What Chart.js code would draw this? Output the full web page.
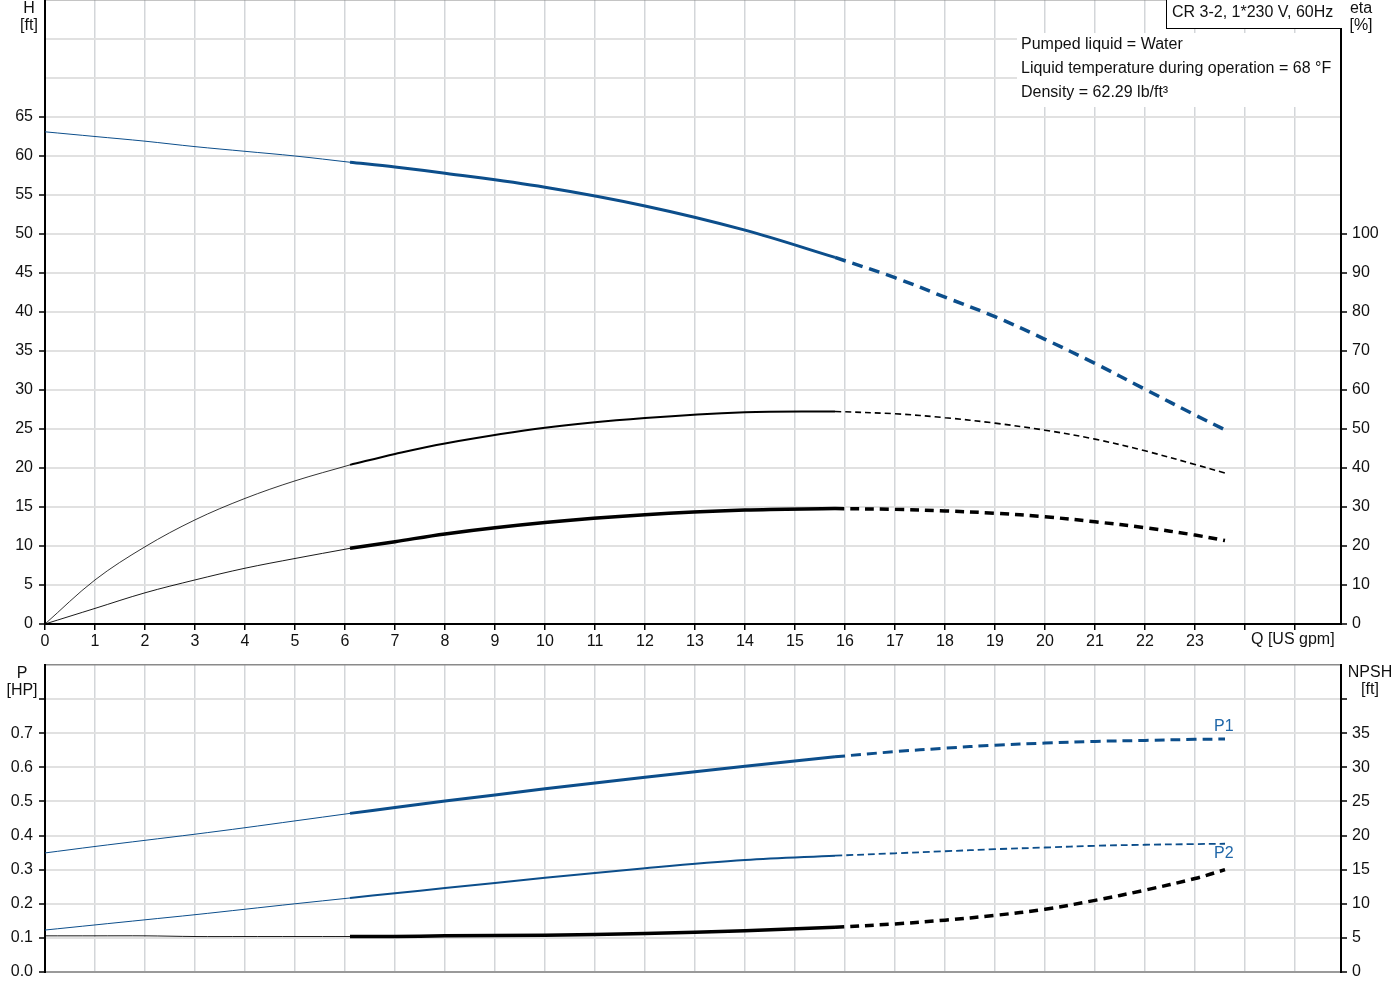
<!DOCTYPE html>
<html>
<head>
<meta charset="utf-8">
<script src="https://cdn.jsdelivr.net/npm/chart.js@4.4.1/dist/chart.umd.min.js"></script>
<style>
  body { margin: 0; background: #fff; }
  #wrap { position: relative; width: 1400px; height: 1000px; overflow: hidden; font-family: "Liberation Sans", Arial, sans-serif; color: #111; }
  canvas { position: absolute; left: 0; }
  .lbl { position: absolute; font-size: 16px; line-height: 17px; text-align: center; white-space: nowrap; }
  #model { position: absolute; left: 1166px; top: 0; width: 175px; height: 28px; border-left: 1px solid #000; border-bottom: 1px solid #000; background: #fff; font-size: 16px; }
  #model span { position: absolute; left: 5px; top: 3px; }
  #liquid { position: absolute; left: 1017px; top: 33px; width: 323px; height: 74px; background: #fff; font-size: 16px; }
  #liquid div { position: absolute; left: 4px; height: 18px; line-height: 18px; white-space: nowrap; }
</style>
</head>
<body>
<div id="wrap">
  <canvas id="topChart" width="1400" height="655" style="top:0"></canvas>
  <canvas id="bottomChart" width="1400" height="345" style="top:655px"></canvas>

  <div class="lbl" style="left:14px;top:-1px;width:30px">H<br>[ft]</div>
  <div class="lbl" style="left:1346px;top:-1px;width:30px">eta<br>[%]</div>
  <div class="lbl" style="left:1251px;top:630px;">Q [US gpm]</div>
  <div class="lbl" style="left:0;top:664px;width:44px">P<br>[HP]</div>
  <div class="lbl" style="left:1342px;top:663px;width:56px">NPSH<br>[ft]</div>

  <div id="model"><span>CR 3-2, 1*230 V, 60Hz</span></div>
  <div id="liquid">
    <div style="top:2px">Pumped liquid = Water</div>
    <div style="top:26px">Liquid temperature during operation = 68 °F</div>
    <div style="top:50px">Density = 62.29 lb/ft³</div>
  </div>
</div>

<script>
// Flow points (US gpm) shared by every curve
const flow = [0, 1, 2, 3, 4, 5, 6.1, 7, 8, 10, 12, 14, 15.8, 17, 18, 19, 20, 21, 22, 23, 23.6]

// Top panel
const headFt = [63.1, 62.5, 61.9, 61.2, 60.6, 60.0, 59.2, 58.6, 57.8, 56.0, 53.6, 50.5, 47.0, 44.4, 41.9, 39.4, 36.5, 33.4, 30.1, 26.8, 24.9]
const etaPump = [0, 11.3, 19.8, 26.7, 32.2, 36.7, 40.8, 43.6, 46.3, 50.3, 52.8, 54.3, 54.5, 53.9, 52.9, 51.5, 49.7, 47.4, 44.4, 40.9, 38.7]
const etaTotal = [0, 4.0, 8.0, 11.3, 14.3, 16.8, 19.4, 21.1, 23.1, 26.0, 28.0, 29.2, 29.6, 29.4, 29.0, 28.4, 27.5, 26.2, 24.7, 22.8, 21.4]

// Bottom panel
const powerP1 = [0.349, 0.368, 0.386, 0.404, 0.423, 0.443, 0.465, 0.482, 0.501, 0.537, 0.571, 0.603, 0.631, 0.646, 0.656, 0.665, 0.671, 0.676, 0.679, 0.682, 0.683]
const powerP2 = [0.123, 0.138, 0.153, 0.168, 0.184, 0.200, 0.217, 0.231, 0.246, 0.276, 0.304, 0.328, 0.341, 0.348, 0.354, 0.360, 0.365, 0.370, 0.373, 0.375, 0.376]
const npshFt = [5.3, 5.3, 5.3, 5.2, 5.2, 5.2, 5.2, 5.2, 5.3, 5.4, 5.65, 6.05, 6.55, 7.05, 7.6, 8.3, 9.2, 10.5, 12.0, 13.7, 15.0]

// Axis ticks
const qTicks = [0, 1, 2, 3, 4, 5, 6, 7, 8, 9, 10, 11, 12, 13, 14, 15, 16, 17, 18, 19, 20, 21, 22, 23, 24, 25]
const qLabelMax = 23
const qMax = 25.92
const headMax = 80, headLabelMax = 65
const etaMax = 160, etaLabelMax = 100
const powerMax = 0.9, powerLabelMax = 0.7, powerTickMax = 0.8
const npshMax = 45, npshLabelMax = 35, npshTickMax = 40

// Duty range: thin before, solid inside, dashed after
const dutyStart = 6.1
const dutyEnd = 15.8

const BLUE = "#0c4e8b"
const LABEL_BLUE = "#1f66a8"
const FONT = { family: "'Liberation Sans', Arial, sans-serif", size: 16 }
const VGRID = "#d3d6d9"
const HGRID = "#e1e1e1"
const CLEAR = "rgba(0,0,0,0)"

function part(values, lo, hi) {
  return flow
    .map((q, i) => ({ x: q, y: values[i] }))
    .filter((p) => p.x >= lo - 1e-9 && p.x <= hi + 1e-9)
}

// three pieces of one curve
function curve(name, values, axis, color, widths, dash) {
  const base = {
    yAxisID: axis,
    borderColor: color,
    pointRadius: 0,
    fill: false,
    tension: 0.35,
  }
  return [
    { ...base, label: name + " low", data: part(values, 0, dutyStart), borderWidth: widths[0] },
    { ...base, label: name, data: part(values, dutyStart, dutyEnd), borderWidth: widths[1] },
    { ...base, label: name + " high", data: part(values, dutyEnd, 99), borderWidth: widths[2], borderDash: dash },
  ]
}

function fixedWidth(w) {
  return (s) => {
    s.width = w
    s.paddingTop = 0
    s.paddingBottom = 0
  }
}

function fixedHeight(h) {
  return (s) => {
    s.height = h
    s.paddingLeft = 0
    s.paddingRight = 0
  }
}

function xScale(showLabels, height) {
  return {
    type: "linear",
    position: "bottom",
    min: 0,
    max: qMax,
    afterBuildTicks: (s) => { s.ticks = qTicks.map((v) => ({ value: v })) },
    afterFit: fixedHeight(height),
    ticks: {
      display: showLabels,
      autoSkip: false,
      maxRotation: 0,
      padding: 2,
      color: "#111",
      font: FONT,
      callback: (v) => (v <= qLabelMax ? String(v) : ""),
    },
    grid: {
      color: VGRID,
      lineWidth: 1.5,
      drawTicks: showLabels,
      tickLength: 6,
      tickColor: "#000",
      tickWidth: 1.5,
    },
    border: { display: true, color: showLabels ? "#000" : "#9a9a9a", width: 2 },
  }
}

function yScale(opts) {
  return {
    type: "linear",
    position: opts.position,
    min: 0,
    max: opts.max,
    afterFit: fixedWidth(opts.width),
    ticks: {
      stepSize: opts.step,
      autoSkip: false,
      padding: opts.padding,
      color: "#111",
      font: FONT,
      callback: (v) => (v <= opts.labelMax + 1e-9 ? opts.format(v) : ""),
    },
    grid: {
      drawOnChartArea: opts.grid,
      color: (c) => (c.tick && c.tick.value >= opts.max - 1e-9 ? "#8a8a8a" : HGRID),
      lineWidth: (c) => (c.tick && c.tick.value >= opts.max - 1e-9 ? 1.5 : 2),
      tickLength: 6,
      tickWidth: 1.5,
      tickColor: (c) => (c.tick && c.tick.value <= opts.tickMax + 1e-9 ? "#000" : CLEAR),
    },
    border: { display: true, color: "#000", width: 2 },
  }
}

// P1 / P2 tags at the end of the power curves
const curveTags = {
  id: "curveTags",
  afterDatasetsDraw(chart) {
    const tags = chart.options.plugins.curveTags.tags || []
    const ctx = chart.ctx
    const xs = chart.scales.x
    ctx.save()
    ctx.font = "16px 'Liberation Sans', Arial, sans-serif"
    ctx.fillStyle = LABEL_BLUE
    ctx.textBaseline = "alphabetic"
    tags.forEach((t) => {
      const ys = chart.scales[t.axis]
      const last = flow.length - 1
      const px = xs.getPixelForValue(flow[last])
      const py = ys.getPixelForValue(t.values[last])
      ctx.fillText(t.text, px - 11, py + t.dy)
    })
    ctx.restore()
  },
}

const common = {
  responsive: false,
  animation: false,
  devicePixelRatio: 1,
  events: [],
  elements: { line: { borderCapStyle: "butt", borderJoinStyle: "round" } },
}

new Chart(document.getElementById("topChart"), {
  type: "line",
  data: {
    datasets: [
      ...curve("eta total", etaTotal, "eta", "#000", [0.9, 3.5, 3.5], [9, 6]),
      ...curve("eta pump", etaPump, "eta", "#000", [0.8, 2, 1.6], [6, 4]),
      ...curve("H", headFt, "h", BLUE, [1, 3, 3.5], [11, 7]),
    ],
  },
  options: {
    ...common,
    layout: { padding: 0 },
    plugins: { legend: { display: false }, tooltip: { enabled: false }, curveTags: { tags: [] } },
    scales: {
      x: xScale(true, 31),
      h: yScale({ position: "left", max: headMax, step: 5, labelMax: headLabelMax, tickMax: headLabelMax, width: 45, padding: 6, grid: true, format: (v) => String(v) }),
      eta: yScale({ position: "right", max: etaMax, step: 10, labelMax: etaLabelMax, tickMax: etaLabelMax, width: 59, padding: 5, grid: false, format: (v) => String(v) }),
    },
  },
  plugins: [curveTags],
})

new Chart(document.getElementById("bottomChart"), {
  type: "line",
  data: {
    datasets: [
      ...curve("NPSH", npshFt, "npsh", "#000", [0.9, 3.5, 3.5], [9, 6]),
      ...curve("P2", powerP2, "p", BLUE, [1, 2, 1.8], [7, 4]),
      ...curve("P1", powerP1, "p", BLUE, [1, 3, 3], [10, 6]),
    ],
  },
  options: {
    ...common,
    layout: { padding: { top: 10 } },
    plugins: {
      legend: { display: false },
      tooltip: { enabled: false },
      curveTags: {
        tags: [
          { text: "P1", axis: "p", values: powerP1, dy: -8 },
          { text: "P2", axis: "p", values: powerP2, dy: 14 },
        ],
      },
    },
    scales: {
      x: xScale(false, 28),
      p: yScale({ position: "left", max: powerMax, step: 0.1, labelMax: powerLabelMax, tickMax: powerTickMax, width: 45, padding: 6, grid: true, format: (v) => v.toFixed(1) }),
      npsh: yScale({ position: "right", max: npshMax, step: 5, labelMax: npshLabelMax, tickMax: npshTickMax, width: 59, padding: 5, grid: false, format: (v) => String(v) }),
    },
  },
  plugins: [curveTags],
})
</script>
</body>
</html>
